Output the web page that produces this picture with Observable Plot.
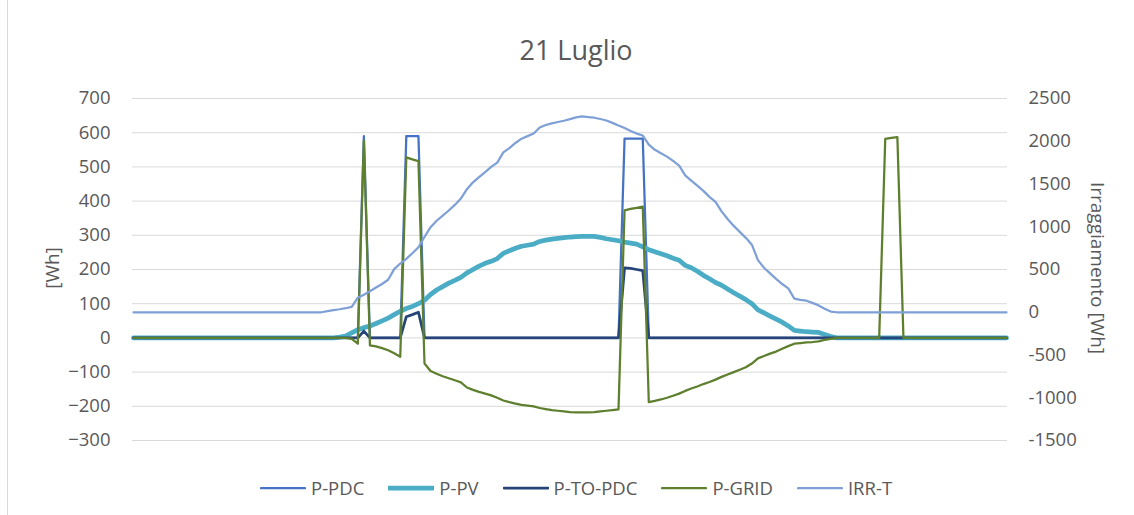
<!DOCTYPE html>
<html>
<head>
<meta charset="utf-8">
<script src="https://cdn.jsdelivr.net/npm/d3@7"></script>
<script src="https://cdn.jsdelivr.net/npm/@observablehq/plot@0.6"></script>
<style>
  html, body { margin: 0; padding: 0; background: #fff; }
  #wrap { position: relative; width: 1134px; height: 515px; overflow: hidden; font-family: "Open Sans", "Noto Sans", sans-serif; color: #595959; }
  #title { position: absolute; left: 0; width: 1152px; top: 31px; text-align: center; font-size: 27px; line-height: 38px; }
  #border { position: absolute; left: 7px; top: 0; width: 0; height: 515px; border-left: 1px solid #d9d9d9; }
  .axlabel { position: absolute; font-size: 19px; white-space: nowrap; line-height: 24px; }
  #legend { position: absolute; top: 477px; left: 260px; display: flex; align-items: center; font-size: 18.5px; line-height: 22px; }
  .item { display: flex; align-items: center; margin-right: 24px; }
  .item svg { margin-right: 5px; }
</style>
</head>
<body>
<div id="wrap">
  <div id="border"></div>
  <div id="title">21 Luglio</div>
  <div id="chart"></div>
  <div class="axlabel" id="ylab" style="left:52px; top:268px; transform: translate(-50%,-50%) rotate(-90deg);">[Wh]</div>
  <div class="axlabel" id="y2lab" style="left:1098px; top:268px; transform: translate(-50%,-50%) rotate(90deg);">Irraggiamento [Wh]</div>
  <div id="legend"></div>
</div>
<script>
// Left axis ticks [Wh]
const leftTicks = [-300, -200, -100, 0, 100, 200, 300, 400, 500, 600, 700];
// Right axis ticks (Irraggiamento [Wh])
const rightTicks = [-1500, -1000, -500, 0, 500, 1000, 1500, 2000, 2500];

// Series, one value every 10 minutes (00:00 .. 24:00, 145 points)
const pPDC = [0,0,0,0,0,0,0,0,0,0, 0,0,0,0,0,0,0,0,0,0, 0,0,0,0,0,0,0,0,0,0, 0,0,0,0,0,0,0,0,590,0,
  0,0,0,0,0,590,590,590,0,0, 0,0,0,0,0,0,0,0,0,0, 0,0,0,0,0,0,0,0,0,0, 0,0,0,0,0,0,0,0,0,0,
  0,583,583,583,583,0,0,0,0,0, 0,0,0,0,0,0,0,0,0,0, 0,0,0,0,0,0,0,0,0,0, 0,0,0,0,0,0,0,0,0,0,
  0,0,0,0,0,0,0,0,0,0, 0,0,0,0,0,0,0,0,0,0, 0,0,0,0,0];
const pPV = [0,0,0,0,0,0,0,0,0,0, 0,0,0,0,0,0,0,0,0,0, 0,0,0,0,0,0,0,0,0,0, 0,0,0,0,2,5,15,24,30,35,
  42,50,58,68,78,86,92,100,110,127, 140,150,160,168,177,190,200,210,218,224, 232,247,255,262,268,271,274,282,286,289, 291,293,295,296,297,297,297,294,290,287,
  284,280,277,274,266,258,252,246,240,233, 227,212,205,195,183,173,162,154,143,132, 122,112,100,82,73,64,55,46,35,22, 20,18,17,16,10,4,0,0,0,0,
  0,0,0,0,0,0,0,0,0,0, 0,0,0,0,0,0,0,0,0,0, 0,0,0,0,0];
const pToPDC = [0,0,0,0,0,0,0,0,0,0, 0,0,0,0,0,0,0,0,0,0, 0,0,0,0,0,0,0,0,0,0, 0,0,0,0,0,0,0,0,20,0,
  0,0,0,0,0,62,68,75,0,0, 0,0,0,0,0,0,0,0,0,0, 0,0,0,0,0,0,0,0,0,0, 0,0,0,0,0,0,0,0,0,0,
  0,205,203,200,197,0,0,0,0,0, 0,0,0,0,0,0,0,0,0,0, 0,0,0,0,0,0,0,0,0,0, 0,0,0,0,0,0,0,0,0,0,
  0,0,0,0,0,0,0,0,0,0, 0,0,0,0,0,0,0,0,0,0, 0,0,0,0,0];
const pGRID = [0,0,0,0,0,0,0,0,0,0, 0,0,0,0,0,0,0,0,0,0, 0,0,0,0,0,0,0,0,0,0, 0,0,0,0,0,0,-3,-17,577,-22,
  -25,-30,-36,-45,-55,528,522,517,-75,-97, -105,-112,-118,-124,-130,-145,-152,-158,-163,-168, -175,-183,-188,-192,-196,-198,-200,-205,-208,-211, -213,-215,-217,-218,-218,-218,-217,-215,-213,-211,
  -209,373,377,380,384,-188,-184,-180,-175,-169, -163,-155,-148,-142,-135,-129,-122,-114,-107,-100, -93,-86,-75,-60,-53,-46,-40,-32,-24,-17, -15,-13,-12,-10,-6,-3,0,0,0,0,
  0,0,0,0,582,585,587,0,0,0, 0,0,0,0,0,0,0,0,0,0, 0,0,0,0,0];
const irrT = [0,0,0,0,0,0,0,0,0,0, 0,0,0,0,0,0,0,0,0,0, 0,0,0,0,0,0,0,0,0,0, 0,0,12,25,35,47,62,170,205,245,
  290,330,380,505,570,625,690,760,880,995, 1070,1130,1190,1255,1330,1440,1520,1580,1640,1700, 1750,1870,1920,1980,2030,2060,2090,2160,2190,2210, 2225,2240,2258,2280,2290,2283,2275,2260,2243,2215,
  2185,2155,2120,2090,2067,1960,1900,1860,1820,1770, 1716,1600,1540,1480,1420,1350,1290,1180,1090,1010, 940,870,790,610,520,455,390,330,280,160, 145,135,110,80,40,8,0,0,0,0,
  0,0,0,0,0,0,0,0,0,0, 0,0,0,0,0,0,0,0,0,0, 0,0,0,0,0];

const seriesNames = ["P-PDC", "P-PV", "P-TO-PDC", "P-GRID", "IRR-T"];
const seriesColors = ["#4472C4", "#4BACC6", "#264478", "#5E7F2D", "#7FA0D6"];
const seriesWidths = [2.25, 4.75, 2.75, 2.25, 2.25];

// secondary axis mapping onto the primary y scale
const y2 = d3.scaleLinear().domain([rightTicks[0], rightTicks[rightTicks.length - 1]]).range([leftTicks[0], leftTicks[leftTicks.length - 1]]);

const toRows = (arr, name, map = v => v) => arr.map((v, i) => ({i, v: map(v), name}));
const rows = [
  toRows(pPDC, "P-PDC"),
  toRows(pPV, "P-PV"),
  toRows(pToPDC, "P-TO-PDC"),
  toRows(pGRID, "P-GRID"),
  toRows(irrT, "IRR-T", y2)
];

const font = "'Open Sans', 'Noto Sans', sans-serif";
const chart = Plot.plot({
  width: 1134,
  height: 515,
  marginLeft: 133,
  marginRight: 128,
  marginTop: 98,
  marginBottom: 75,
  style: {fontFamily: font, fontSize: "18.5px", color: "#595959", background: "transparent", overflow: "visible"},
  x: {domain: [0, pPV.length - 1], axis: null},
  y: {domain: [leftTicks[0], leftTicks[leftTicks.length - 1]], axis: null},
  marks: [
    Plot.ruleY(leftTicks, {stroke: "#d9d9d9", strokeWidth: 1, insetLeft: -1, insetRight: -1}),
    Plot.axisY({anchor: "left", ticks: leftTicks, tickSize: 0, tickPadding: 23, label: null}),
    Plot.axisY({anchor: "right", ticks: rightTicks.map(d => y2(d)),
      tickFormat: d => String(Math.round(y2.invert(d))), tickSize: 0, tickPadding: 22, label: null}),
    ...rows.map((r, k) => Plot.line(r, {x: "i", y: "v", stroke: seriesColors[k], strokeWidth: seriesWidths[k], strokeLinejoin: "round", strokeLinecap: "round"}))
  ]
});
document.getElementById("chart").appendChild(chart);

// legend
const leg = document.getElementById("legend");
seriesNames.forEach((n, k) => {
  const it = document.createElement("div");
  it.className = "item";
  it.innerHTML = `<svg width="46" height="10"><line x1="1" y1="5" x2="45" y2="5" stroke="${seriesColors[k]}" stroke-width="${seriesWidths[k]}" stroke-linecap="round"/></svg><span>${n}</span>`;
  leg.appendChild(it);
});
</script>
</body>
</html>
